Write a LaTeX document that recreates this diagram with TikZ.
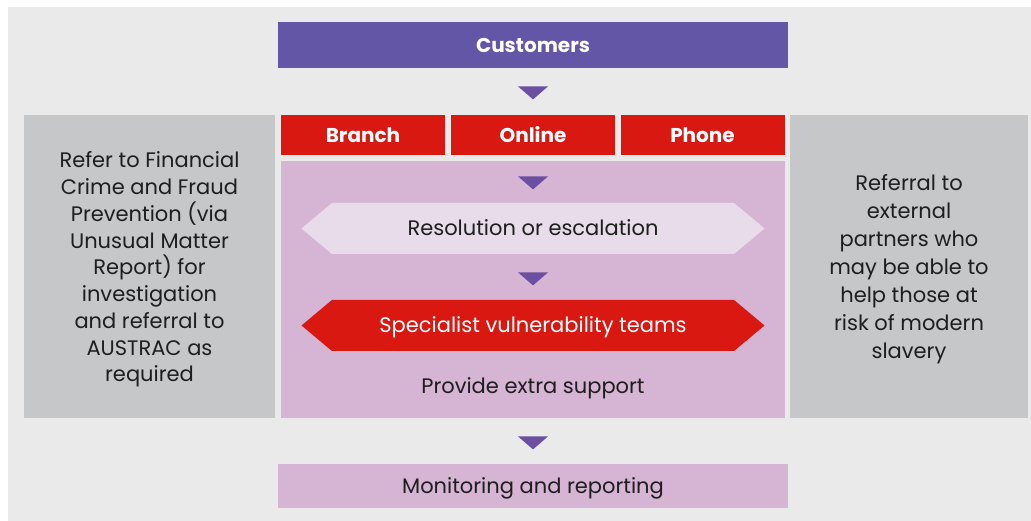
\documentclass[tikz,border=0pt]{standalone}
\usepackage{fontspec}
\setmainfont{Poppins}
\usetikzlibrary{shapes.geometric}
\usetikzlibrary{shapes.symbols}

\definecolor{bggray}{HTML}{EAEAEA}
\definecolor{boxgray}{HTML}{C6C7C9}
\definecolor{cpurple}{HTML}{6456A6}
\definecolor{tripurple}{HTML}{6B4FA0}
\definecolor{cred}{HTML}{DA1812}
\definecolor{cpink}{HTML}{D6B4D4}
\definecolor{lpink}{HTML}{E8DCEB}
\definecolor{ctext}{HTML}{1E1E1E}

\begin{document}
\begin{tikzpicture}[x=1pt,y=-1pt,
  every node/.style={inner sep=0pt,outer sep=0pt,font=\fontsize{21}{27}\selectfont,text=ctext},
  oneline/.style={text height=15pt,text depth=0pt},
  tab/.style={oneline,fill=cred,text=white,minimum width=164,minimum height=40,font=\fontsize{20}{22}\selectfont\bfseries},
  side/.style={fill=boxgray,minimum height=303},
  sidetext/.style={align=center},
  tri/.style={isosceles triangle,isosceles triangle stretches,shape border rotate=270,
    fill=tripurple,minimum width=30,minimum height=13},
  hexa/.style={oneline,signal,signal to=east and west,signal pointer angle=80,
    minimum width=463,minimum height=51}]
  \useasboundingbox (0,0) rectangle (1031,521);
  \fill[bggray] (8,7) rectangle (1031,521);
  % top
  \node[oneline,fill=cpurple,minimum width=510,minimum height=46,text=white,
    font=\fontsize{20}{22}\selectfont\bfseries] (cust) at (533,45) {Customers};
  \node[tri] (t1) at (533,92) {};
  % channels
  \node[tab] (branch) at (363,135) {Branch};
  \node[tab] (online) at (533,135) {Online};
  \node[tab] (phone) at (702.5,135) {Phone};
  % middle column
  \node[fill=cpink,minimum width=504,minimum height=257] (mid) at (533,289.5) {};
  \node[tri] (t2) at (533,182) {};
  \node[hexa,fill=lpink] (resol) at (533,228.5) {Resolution or escalation};
  \node[tri] (t3) at (533,278) {};
  \node[hexa,fill=cred,text=white] (spec) at (533,325.5) {Specialist vulnerability teams};
  \node[oneline] (extra) at (533,386) {Provide extra support};
  % sides
  \node[side,minimum width=251] (left) at (149.5,266.5) {};
  \node[sidetext,font=\fontsize{21}{26.75}\selectfont] (lefttext) at (149.5,269.5)
    {Refer to Financial\\Crime and Fraud\\Prevention (via\\Unusual Matter\\Report) for\\investigation\\and referral to\\AUSTRAC as\\required};
  \node[side,minimum width=238] (right) at (909,266.5) {};
  \node[sidetext,font=\fontsize{21}{28}\selectfont] (righttext) at (909,269.5)
    {Referral to\\external\\partners who\\may be able to\\help those at\\risk of modern\\slavery};
  % bottom
  \node[tri] (t4) at (533,442) {};
  \node[oneline,fill=cpink,minimum width=510,minimum height=44] (monit) at (533,486) {Monitoring and reporting};
\end{tikzpicture}
\end{document}
